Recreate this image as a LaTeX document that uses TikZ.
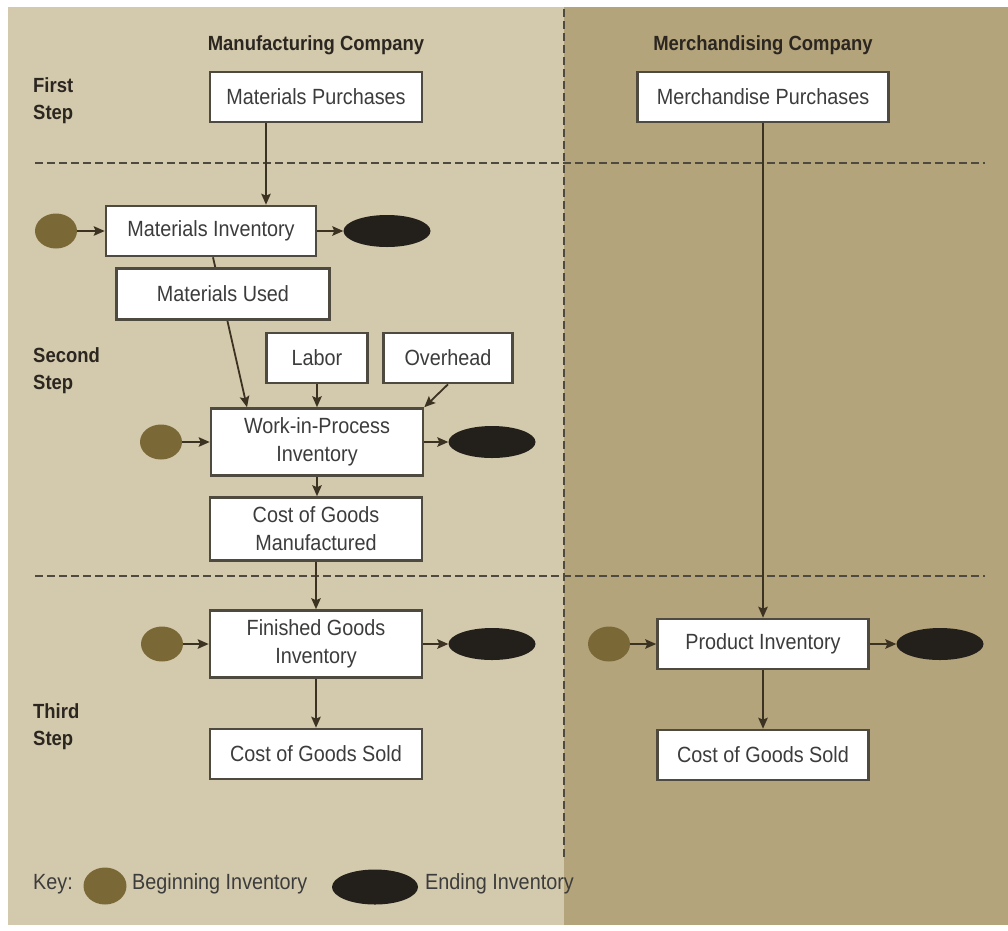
\documentclass[tikz,border=0pt]{standalone}
\usepackage{fontspec}
\setmainfont{Liberation Sans}[FakeStretch=0.9]
\usetikzlibrary{arrows.meta,shapes.geometric}

\definecolor{panelL}{HTML}{D3C9AC}
\definecolor{panelR}{HTML}{B4A47C}
\definecolor{beginc}{HTML}{7A6937}
\definecolor{endc}{HTML}{231F1B}
\definecolor{boxline}{HTML}{4F4A40}
\definecolor{ink}{HTML}{3C3C3C}
\definecolor{head}{HTML}{2B2620}
\definecolor{arrowc}{HTML}{3B3222}

\newcommand\boxtext{\fontsize{22}{28}\selectfont}
\newcommand\headtext{\fontsize{20.5}{27}\selectfont\bfseries}

\tikzset{
  box/.style={draw=boxline, line width=2.6pt, fill=white, inner sep=0pt,
              font=\boxtext, text=ink, align=center},
  bcirc/.style={ellipse, fill=beginc, minimum width=42pt, minimum height=35pt, inner sep=0pt},
  ecirc/.style={ellipse, fill=endc, minimum width=87pt, minimum height=32pt, inner sep=0pt},
  flow/.style={draw=arrowc, line width=1.8pt, -{Stealth[length=11pt,width=9.5pt,inset=2pt]}},
  divider/.style={draw=boxline, line width=2pt, dash pattern=on 7.5pt off 4.5pt},
  headlabel/.style={font=\headtext, text=head, inner sep=0pt},
  steplabel/.style={font=\headtext, text=head, inner sep=0pt, align=left, anchor=west},
  keytext/.style={font=\boxtext, text=ink, inner sep=0pt, anchor=west},
}

\begin{document}
\begin{tikzpicture}[x=1pt, y=-1pt]
  \useasboundingbox (0,0) rectangle (1008,930);
  % panels
  \fill[white] (0,0) rectangle (1008,930);
  \fill[panelL] (8,7) rectangle (564,925);
  \fill[panelR] (564,7) rectangle (1008,925);

  % step dividers
  \draw[divider] (35,163) -- (985,163);
  \draw[divider] (35,576) -- (985,576);
  \draw[divider] (564,9) -- (564,860);

  % column titles and step labels
  \node[headlabel] (mfgtitle) at (316,45) {Manufacturing Company};
  \node[headlabel] (mchtitle) at (763,45) {Merchandising Company};
  \node[steplabel] (step1) at (33,101) {First\\Step};
  \node[steplabel] (step2) at (33,371) {Second\\Step};
  \node[steplabel] (step3) at (33,727) {Third\\Step};

  % manufacturing column
  \node[box, minimum width=212pt, minimum height=50pt] (mp) at (316,97) {Materials Purchases};
  \node[box, minimum width=210pt, minimum height=50pt] (mi) at (211,231) {Materials Inventory};
  \node[box, minimum width=101pt, minimum height=50pt] (lab) at (317,358) {Labor};
  \node[box, minimum width=129pt, minimum height=50pt] (ovh) at (448,358) {Overhead};
  \node[box, minimum width=212pt, minimum height=67pt] (wip) at (317,442) {Work-in-Process\\Inventory};
  \node[box, minimum width=212pt, minimum height=63pt] (cogm) at (316,529) {Cost of Goods\\Manufactured};
  \node[box, minimum width=212pt, minimum height=67pt] (fg) at (316,644) {Finished Goods\\Inventory};
  \node[box, minimum width=212pt, minimum height=50pt] (cogs1) at (316,754) {Cost of Goods Sold};

  % materials flow passes behind the Materials Used box
  \draw[flow] ([xshift=2pt]mi.south) -- ([xshift=-70pt]wip.north);
  \node[box, minimum width=213pt, minimum height=51pt] (mu) at (223,294) {Materials Used};

  % merchandising column
  \node[box, minimum width=251pt, minimum height=50pt] (merp) at (763,97) {Merchandise Purchases};
  \node[box, minimum width=211pt, minimum height=50pt] (pi) at (763,644) {Product Inventory};
  \node[box, minimum width=211pt, minimum height=50pt] (cogs2) at (763,755) {Cost of Goods Sold};

  % beginning / ending inventories
  \node[bcirc] (mib) at (56,231) {};
  \node[ecirc] (mie) at (387,231) {};
  \node[bcirc] (wipb) at (161,442) {};
  \node[ecirc] (wipe) at (492,442) {};
  \node[bcirc] (fgb) at (162,644) {};
  \node[ecirc] (fge) at (492,644) {};
  \node[bcirc] (pib) at (609,644) {};
  \node[ecirc] (pie) at (940,644) {};

  % flows
  \draw[flow] ([xshift=-50pt]mp.south) -- ([xshift=-50pt]mp.south |- mi.north);
  \draw[flow] (lab.south) -- (lab.south |- wip.north);
  \draw[flow] (ovh.south) -- (wip.north east);
  \draw[flow] (wip.south) -- (wip.south |- cogm.north);
  \draw[flow] (cogm.south) -- (fg.north);
  \draw[flow] (fg.south) -- (cogs1.north);
  \draw[flow] (merp.south) -- (pi.north);
  \draw[flow] (pi.south) -- (cogs2.north);

  \draw[flow] (mib.east) -- (mi.west);
  \draw[flow] (mi.east) -- (mie.west);
  \draw[flow] (wipb.east) -- (wip.west);
  \draw[flow] (wip.east) -- (wipe.west);
  \draw[flow] (fgb.east) -- (fg.west);
  \draw[flow] (fg.east) -- (fge.west);
  \draw[flow] (pib.east) -- (pi.west);
  \draw[flow] (pi.east) -- (pie.west);

  % key
  \node[keytext] (keylbl) at (33,884) {Key:};
  \node[bcirc, minimum width=43pt, minimum height=37pt] (keyb) at (105,886) {};
  \node[keytext] (keybt) at (132,884) {Beginning Inventory};
  \node[ecirc, minimum width=86pt, minimum height=35pt] (keye) at (375,887) {};
  \node[keytext] (keyet) at (425,884) {Ending Inventory};
\end{tikzpicture}
\end{document}
